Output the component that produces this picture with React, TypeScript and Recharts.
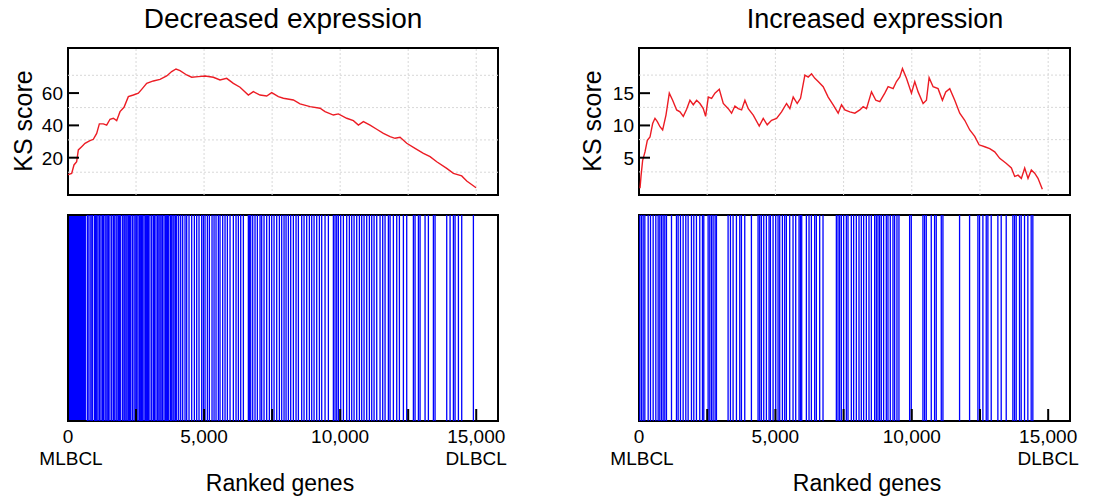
import React from 'react';
import { LineChart, Line, XAxis, YAxis, ReferenceArea, ReferenceLine, ComposedChart, Bar } from 'recharts';

const FONT = '"Liberation Sans", Arial, Helvetica, sans-serif';

const xDomainMax = 15800;
const xAxisTicks = [0, 2500, 5000, 7500, 10000, 12500, 15000];
const xLabelTicks = [0, 5000, 10000, 15000];
const xGridValues = [2500, 5000, 7500, 10000, 12500, 15000];
const startLabel = 'MLBCL';
const endLabel = 'DLBCL';
const xTitle = 'Ranked genes';
const yTitle = 'KS score';

const decreasedTitle = 'Decreased expression';
const decreasedYTicks = [20, 40, 60];
const decreasedYGrid = [11, 31, 51, 71];
const decreasedRanks = [0, 135, 220, 318, 380, 502, 625, 808, 931, 1054, 1152, 1298, 1421, 1544, 1666, 1789, 1911, 2058, 2217, 2401, 2585, 2707, 2891, 3136, 3381, 3626, 3810, 3969, 4116, 4361, 4545, 4790, 5035, 5341, 5586, 5831, 6076, 6321, 6627, 6811, 7056, 7301, 7485, 7730, 7914, 8281, 8526, 8894, 9261, 9445, 9751, 9935, 10241, 10486, 10670, 10854, 11099, 11344, 11589, 11834, 12018, 12201, 12446, 12752, 13059, 13304, 13549, 13916, 14161, 14467, 14651, 14994];
const decreasedScores = [9.5, 10.3, 15.5, 17.5, 24.8, 26.8, 28.9, 30.5, 31.4, 35, 40.9, 40.9, 40.2, 43.8, 44.4, 42.9, 48.5, 51.2, 57.8, 58.8, 59.9, 62.3, 66, 67.5, 68.5, 70.6, 73.3, 74.9, 73.9, 71.2, 69.8, 70.2, 70.6, 69.8, 68.1, 69.1, 66, 63.6, 58.8, 60.9, 58.8, 58.2, 60.3, 57.8, 56.8, 55.7, 53.3, 51.6, 50.6, 48.5, 46.4, 47.1, 44.4, 42.9, 40.2, 42.3, 40.2, 37.6, 35.1, 33, 32, 32.6, 28.9, 25.8, 22.7, 20.6, 17.5, 13.4, 10.3, 8.7, 5.6, 1.4];
const decreasedLeadingBlock = [0, 660];
const decreasedHits = [710, 740, 808, 850, 894, 968, 1010, 1054, 1100, 1152, 1210, 1262, 1300, 1360, 1397, 1440, 1482, 1540, 1605, 1666, 1700, 1764, 1800, 1850, 1890, 1936, 2009, 2058, 2090, 2132, 2170, 2217, 2260, 2303, 2364, 2426, 2470, 2524, 2570, 2622, 2671, 2700, 2744, 2793, 2842, 2891, 2920, 2952, 3010, 3075, 3136, 3180, 3234, 3295, 3340, 3381, 3420, 3467, 3528, 3580, 3626, 3660, 3700, 3761, 3810, 3859, 3896, 3950, 3994, 4067, 4141, 4214, 4300, 4361, 4447, 4545, 4643, 4729, 4814, 4912, 4974, 5035, 5121, 5194, 5292, 5366, 5439, 5525, 5586, 5684, 5770, 5856, 5954, 6076, 6174, 6260, 6346, 6444, 6627, 6664, 6713, 6787, 6872, 6958, 7056, 7117, 7203, 7301, 7399, 7485, 7571, 7669, 7767, 7852, 7938, 8012, 8097, 8183, 8281, 8379, 8465, 8587, 8673, 8771, 8869, 8955, 9041, 9139, 9237, 9322, 9445, 9567, 9751, 9812, 9874, 9935, 10021, 10119, 10241, 10339, 10425, 10511, 10609, 10707, 10792, 10878, 10976, 11074, 11160, 11246, 11344, 11466, 11564, 11650, 11772, 11834, 11956, 12079, 12177, 12324, 12446, 12691, 12752, 12875, 12936, 13120, 13242, 13426, 13487, 13916, 14039, 14161, 14222, 14345, 14467, 14896];

const increasedTitle = 'Increased expression';
const increasedYTicks = [5, 10, 15];
const increasedYGrid = [2.8, 7.8, 12.8, 17.8];
const increasedRanks = [37, 73, 134, 220, 305, 403, 501, 586, 672, 769, 867, 989, 1111, 1233, 1380, 1502, 1624, 1746, 1868, 1990, 2112, 2234, 2356, 2442, 2540, 2662, 2784, 2943, 3089, 3272, 3394, 3516, 3638, 3761, 3883, 4005, 4188, 4408, 4554, 4701, 4860, 5043, 5226, 5409, 5531, 5653, 5800, 5922, 6081, 6203, 6325, 6447, 6569, 6752, 6935, 7118, 7302, 7424, 7546, 7729, 7912, 8095, 8217, 8340, 8523, 8681, 8828, 9011, 9133, 9316, 9438, 9560, 9658, 9805, 9988, 10110, 10232, 10415, 10537, 10635, 10781, 10964, 11123, 11245, 11392, 11575, 11758, 11941, 12125, 12308, 12467, 12674, 12857, 13040, 13223, 13468, 13651, 13773, 13895, 14017, 14139, 14261, 14383, 14505, 14627, 14786];
const increasedScores = [0.26, 2.1, 4.6, 5.9, 7.7, 8.2, 10.3, 11.1, 10.6, 9.8, 9.3, 11.6, 15, 13.9, 12.4, 12.1, 11.4, 12.5, 13.9, 13.2, 13.9, 13.4, 12.6, 11.4, 14.4, 14.2, 15, 15.6, 13.4, 12.6, 11.9, 13, 12.6, 12.4, 13.9, 12.6, 11.6, 9.9, 11.1, 10.1, 10.8, 11.1, 12.1, 13.4, 12.6, 14.4, 13.4, 14.2, 17.8, 17.5, 18, 17.3, 16.8, 16, 14.4, 13.2, 11.9, 13.2, 12.4, 12.1, 11.9, 12.4, 12.9, 12.6, 15.2, 13.9, 13.7, 15, 16, 15.7, 16.8, 17.5, 18.8, 17.3, 15, 16.8, 15.2, 13.4, 13.9, 17.4, 16, 15.7, 13.9, 15.2, 15.7, 13.9, 11.9, 10.8, 9.3, 8.3, 7, 6.7, 6.4, 5.9, 4.9, 4.1, 3.4, 2.1, 2.3, 1.8, 3.4, 1.8, 3.1, 2.6, 1.8, 0.1];
const increasedHits = [37, 98, 159, 220, 342, 427, 525, 623, 708, 769, 830, 891, 952, 1013, 1197, 1380, 1441, 1526, 1624, 1722, 1807, 1929, 2015, 2112, 2234, 2332, 2381, 2540, 2601, 2662, 2723, 2796, 2845, 3272, 3358, 3455, 3578, 3700, 3761, 3883, 4127, 4371, 4432, 4493, 4579, 4676, 4774, 4823, 4921, 5018, 5104, 5165, 5263, 5348, 5409, 5531, 5653, 5751, 5873, 5922, 5971, 6142, 6239, 6325, 6447, 6508, 6630, 6752, 7241, 7302, 7363, 7424, 7509, 7607, 7668, 7790, 7875, 7973, 8071, 8156, 8242, 8340, 8437, 8523, 8645, 8706, 8767, 8828, 8889, 8974, 9072, 9133, 9218, 9316, 9377, 9463, 9536, 9927, 9988, 10415, 10476, 10537, 10720, 10842, 10903, 11087, 11148, 11758, 12125, 12430, 12491, 12613, 12735, 12796, 12918, 13162, 13284, 13468, 13712, 13773, 13834, 13956, 14017, 14139, 14261, 14383, 14444];
const increasedLeadingBlock: number[] = [];

const barcodeTop = 8;

const fmt = (v: number) => v.toLocaleString('en-US');

function YTick(props: any) {
  const { x, y, payload } = props;
  return (
    <g>
      <line x1={x + 5} x2={x + 16} y1={y} y2={y} stroke="#000" strokeWidth={2} />
      <text x={x} y={y} dy="0.36em" textAnchor="end" fontSize={19} fontFamily={FONT} fill="#000">
        {payload.value}
      </text>
    </g>
  );
}

function XTick(props: any) {
  const { x, y, payload } = props;
  const v = payload.value as number;
  return (
    <g>
      {v > 0 && <line x1={x} x2={x} y1={y} y2={y - 12} stroke="#000" strokeWidth={2} />}
      {xLabelTicks.includes(v) && (
        <text x={x} y={y + 22} textAnchor="middle" fontSize={19} fontFamily={FONT} fill="#000">
          {fmt(v)}
        </text>
      )}
      {v === xAxisTicks[0] && (
        <text x={x + 3} y={y + 44} textAnchor="middle" fontSize={19} fontFamily={FONT} fill="#000">
          {startLabel}
        </text>
      )}
      {v === xAxisTicks[xAxisTicks.length - 1] && (
        <text x={x} y={y + 44} textAnchor="middle" fontSize={19} fontFamily={FONT} fill="#000">
          {endLabel}
        </text>
      )}
    </g>
  );
}

const HIT_W = 1.3;
function HitShape(props: any) {
  const { x, y, width, height } = props;
  if (x == null || y == null) return null;
  const cx = x + (width || 0) / 2;
  return <rect x={cx - HIT_W / 2} y={y} width={HIT_W} height={height} fill="#0000ff" />;
}

type PanelProps = {
  left: number;
  width: number;
  marginLeft: number;
  marginRight: number;
  ranks: number[];
  scores: number[];
  yDomain: [number, number];
  yTicks: number[];
  yGrid: number[];
  hits: number[];
  block: number[];
};

const gridStroke = '#d8d8d8';
const Y_AXIS_W = 60;
const X_AXIS_H = 60;

function Panel(p: PanelProps) {
  const lineData = p.ranks.map((r, i) => ({ rank: r, ks: p.scores[i] }));
  const barData = p.hits.map((h) => ({ rank: h, full: barcodeTop }));
  return (
    <>
      <div style={{ position: 'absolute', left: p.left, top: 0 }}>
        <LineChart
          width={p.width}
          height={200}
          data={lineData}
          margin={{ top: 48, right: p.marginRight, bottom: 5, left: p.marginLeft - Y_AXIS_W }}
        >
          <XAxis dataKey="rank" type="number" domain={[0, xDomainMax]} allowDataOverflow hide />
          <YAxis
            type="number"
            domain={p.yDomain}
            allowDataOverflow
            ticks={p.yTicks}
            width={Y_AXIS_W}
            tickSize={0}
            tickMargin={5}
            axisLine={false}
            tickLine={false}
            tick={<YTick />}
            interval={0}
          />
          {xGridValues.map((g) => (
            <ReferenceLine key={'vx' + g} x={g} stroke={gridStroke} strokeDasharray="2 2" strokeWidth={1} />
          ))}
          {p.yGrid.map((g) => (
            <ReferenceLine key={'hy' + g} y={g} stroke={gridStroke} strokeDasharray="2 2" strokeWidth={1} />
          ))}
          <Line
            dataKey="ks"
            type="linear"
            stroke="#ec1c24"
            strokeWidth={1.4}
            dot={false}
            isAnimationActive={false}
          />
          <ReferenceArea
            x1={0}
            x2={xDomainMax}
            y1={p.yDomain[0]}
            y2={p.yDomain[1]}
            fill="none"
            stroke="#000"
            strokeWidth={2}
          />
        </LineChart>
      </div>
      <div style={{ position: 'absolute', left: p.left, top: 200 }}>
        <ComposedChart
          width={p.width}
          height={298}
          data={barData}
          margin={{ top: 15, right: p.marginRight, bottom: 77 - X_AXIS_H, left: p.marginLeft - Y_AXIS_W }}
          barGap={0}
          barCategoryGap={0}
        >
          <XAxis
            dataKey="rank"
            type="number"
            domain={[0, xDomainMax]}
            allowDataOverflow
            ticks={xAxisTicks}
            height={X_AXIS_H}
            tickSize={0}
            tickMargin={0}
            axisLine={false}
            tickLine={false}
            tick={<XTick />}
            interval={0}
          />
          <YAxis
            type="number"
            domain={[0, barcodeTop]}
            width={Y_AXIS_W}
            tick={false}
            axisLine={false}
            tickLine={false}
          />
          {p.block.length === 2 && (
            <ReferenceArea x1={p.block[0]} x2={p.block[1]} y1={0} y2={barcodeTop} fill="#0000ff" fillOpacity={1} stroke="none" />
          )}
          <Bar dataKey="full" fill="#0000ff" shape={<HitShape />} isAnimationActive={false} />
          <ReferenceArea x1={0} x2={xDomainMax} y1={0} y2={barcodeTop} fill="none" stroke="#000" strokeWidth={2} />
        </ComposedChart>
      </div>
    </>
  );
}

export default function App() {
  return (
    <div
      style={{
        position: 'absolute',
        left: 0,
        top: 0,
        width: 1098,
        height: 498,
        background: '#fff',
        fontFamily: FONT,
        overflow: 'hidden',
      }}
    >
      <Panel
        left={0}
        width={540}
        marginLeft={68}
        marginRight={42}
        ranks={decreasedRanks}
        scores={decreasedScores}
        yDomain={[-3.1, 87.9]}
        yTicks={decreasedYTicks}
        yGrid={decreasedYGrid}
        hits={decreasedHits}
        block={decreasedLeadingBlock}
      />
      <Panel
        left={560}
        width={538}
        marginLeft={79}
        marginRight={28}
        ranks={increasedRanks}
        scores={increasedScores}
        yDomain={[-0.78, 22]}
        yTicks={increasedYTicks}
        yGrid={increasedYGrid}
        hits={increasedHits}
        block={increasedLeadingBlock}
      />
      <svg
        width={1098}
        height={498}
        style={{ position: 'absolute', left: 0, top: 0, pointerEvents: 'none' }}
      >
        <text x={283} y={28} textAnchor="middle" fontSize={28} fontFamily={FONT} fill="#000">
          {decreasedTitle}
        </text>
        <text x={875} y={28} textAnchor="middle" fontSize={27} fontFamily={FONT} fill="#000">
          {increasedTitle}
        </text>
        <text
          x={23}
          y={121}
          dy="0.36em"
          textAnchor="middle"
          fontSize={25}
          fontFamily={FONT}
          fill="#000"
          transform="rotate(-90 23 121)"
        >
          {yTitle}
        </text>
        <text
          x={592}
          y={121}
          dy="0.36em"
          textAnchor="middle"
          fontSize={25}
          fontFamily={FONT}
          fill="#000"
          transform="rotate(-90 592 121)"
        >
          {yTitle}
        </text>
        <text x={280} y={491} textAnchor="middle" fontSize={23} fontFamily={FONT} fill="#000">
          {xTitle}
        </text>
        <text x={867} y={491} textAnchor="middle" fontSize={23} fontFamily={FONT} fill="#000">
          {xTitle}
        </text>
      </svg>
    </div>
  );
}
